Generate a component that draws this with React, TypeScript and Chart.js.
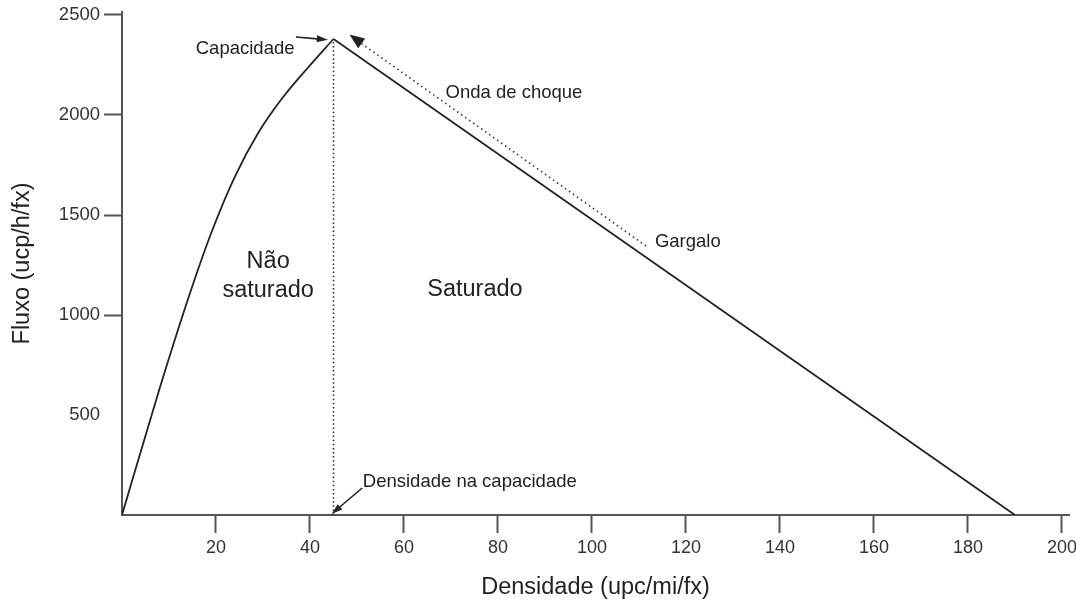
import React, { useEffect, useRef } from "react";
import { Chart, registerables } from "chart.js";

Chart.register(...registerables);

// ---- Data ----
const xTickValues = [20, 40, 60, 80, 100, 120, 140, 160, 180, 200];
const yTickValues = [500, 1000, 1500, 2000, 2500];

// Unsaturated (free-flow) branch of the flow-density curve
const curveDensity = [0, 8, 14, 19, 24, 29, 34, 39.5, 45];
const curveFlow = [0, 632, 1076, 1411, 1691, 1911, 2081, 2235, 2380];

// Saturated (congested) branch
const saturatedDensity = [45, 190];
const saturatedFlow = [2380, 0];

// Dotted vertical at the density at capacity
const capacityLineDensity = [45, 45];
const capacityLineFlow = [0, 2380];

// Dotted shock-wave line
const shockDensity = [111.5, 50.5];
const shockFlow = [1345, 2365];

// Text annotations
const labelTexts = [
  ["Capacidade"],
  ["Onda de choque"],
  ["Gargalo"],
  ["Não", "saturado"],
  ["Saturado"],
  ["Densidade na capacidade"],
];
const labelDensity = [26.2, 83.4, 120.4, 31.1, 75.1, 74.0];
const labelFlow = [2330, 2110, 1365, 1195, 1125, 165];
const labelSizes = [18.5, 18.5, 18.5, 23.5, 23.5, 18.5];

// Arrows: from -> to (data coordinates)
const arrowFrom = [
  [37.0, 2390],
  [111.5, 1345],
  [51.1, 135],
];
const arrowTo = [
  [43.8, 2376],
  [48.4, 2402],
  [44.6, 5],
];
const arrowShaft = [true, false, true];
const arrowHeadLen = [11, 15, 11];
const arrowHeadWidth = [7, 12, 7];

const FONT = '"Liberation Sans", Arial, Helvetica, sans-serif';
const INK = "#222222";
const AXIS = "#555555";

const annotationPlugin = {
  id: "flowAnnotations",
  afterDatasetsDraw(chart: any) {
    const { ctx } = chart;
    const xs = chart.scales.x;
    const ys = chart.scales.y;
    ctx.save();
    ctx.strokeStyle = INK;
    ctx.fillStyle = INK;
    ctx.lineWidth = 1.6;
    ctx.setLineDash([]);
    for (let i = 0; i < arrowFrom.length; i++) {
      const x1 = xs.getPixelForValue(arrowFrom[i][0]);
      const y1 = ys.getPixelForValue(arrowFrom[i][1]);
      const x2 = xs.getPixelForValue(arrowTo[i][0]);
      const y2 = ys.getPixelForValue(arrowTo[i][1]);
      const ang = Math.atan2(y2 - y1, x2 - x1);
      const c = Math.cos(ang);
      const s = Math.sin(ang);
      const L = arrowHeadLen[i];
      const W = arrowHeadWidth[i];
      if (arrowShaft[i]) {
        ctx.beginPath();
        ctx.moveTo(x1, y1);
        ctx.lineTo(x2 - c * L * 0.7, y2 - s * L * 0.7);
        ctx.stroke();
      }
      ctx.beginPath();
      ctx.moveTo(x2, y2);
      ctx.lineTo(x2 - L * c + (W / 2) * s, y2 - L * s - (W / 2) * c);
      ctx.lineTo(x2 - L * c - (W / 2) * s, y2 - L * s + (W / 2) * c);
      ctx.closePath();
      ctx.fill();
    }
    ctx.textAlign = "center";
    ctx.textBaseline = "middle";
    for (let i = 0; i < labelTexts.length; i++) {
      const size = labelSizes[i];
      ctx.font = `${size}px ${FONT}`;
      const cx = xs.getPixelForValue(labelDensity[i]);
      const cy = ys.getPixelForValue(labelFlow[i]);
      const lines = labelTexts[i];
      const lh = size * 1.2;
      lines.forEach((t, k) => {
        ctx.fillText(t, cx, cy + (k - (lines.length - 1) / 2) * lh);
      });
    }
    ctx.restore();
  },
};

function toPoints(xv: number[], yv: number[]) {
  return xv.map((v, i) => ({ x: v, y: yv[i] }));
}

export default function App() {
  const canvasRef = useRef<HTMLCanvasElement | null>(null);

  useEffect(() => {
    const canvas = canvasRef.current;
    if (!canvas) return;
    const chart = new Chart(canvas, {
      type: "scatter",
      data: {
        datasets: [
          {
            label: "Não saturado",
            data: toPoints(curveDensity, curveFlow),
            showLine: true,
            borderColor: INK,
            borderWidth: 1.8,
            pointRadius: 0,
            cubicInterpolationMode: "monotone",
            fill: false,
          },
          {
            label: "Saturado",
            data: toPoints(saturatedDensity, saturatedFlow),
            showLine: true,
            borderColor: INK,
            borderWidth: 1.8,
            pointRadius: 0,
            tension: 0,
            fill: false,
          },
          {
            label: "Densidade na capacidade",
            data: toPoints(capacityLineDensity, capacityLineFlow),
            showLine: true,
            borderColor: "#333333",
            borderWidth: 1.6,
            borderDash: [1.5, 2.6],
            pointRadius: 0,
            fill: false,
          },
          {
            label: "Onda de choque",
            data: toPoints(shockDensity, shockFlow),
            showLine: true,
            borderColor: "#333333",
            borderWidth: 1.6,
            borderDash: [1.5, 3.4],
            pointRadius: 0,
            fill: false,
          },
        ],
      },
      options: {
        responsive: false,
        animation: false,
        devicePixelRatio: 1,
        layout: { padding: { top: 12, right: 7, left: 0, bottom: 0 } },
        plugins: {
          legend: { display: false },
          tooltip: { enabled: false },
          title: { display: false },
        },
        scales: {
          x: {
            type: "linear",
            min: 0,
            max: 201.5,
            afterBuildTicks: (scale: any) => {
              scale.ticks = xTickValues.map((v) => ({ value: v }));
            },
            afterFit: (scale: any) => {
              scale.height = 87;
              scale.paddingLeft = 0;
              scale.paddingRight = 0;
            },
            border: { display: true, color: AXIS, width: 2 },
            grid: {
              drawOnChartArea: false,
              drawTicks: true,
              tickLength: 18,
              tickColor: AXIS,
              tickWidth: 2,
            },
            ticks: {
              padding: 4,
              color: "#333333",
              font: { family: FONT, size: 18 },
              autoSkip: false,
              maxRotation: 0,
              minRotation: 0,
              callback: (v: any) => String(v),
            },
            title: {
              display: true,
              text: "Densidade (upc/mi/fx)",
              color: INK,
              font: { family: FONT, size: 23.5 },
              padding: { top: 0, bottom: 0 },
            },
          },
          y: {
            type: "linear",
            min: 0,
            max: 2515,
            afterBuildTicks: (scale: any) => {
              scale.ticks = yTickValues.map((v) => ({ value: v }));
            },
            afterFit: (scale: any) => {
              scale.width = 122;
              scale.paddingTop = 0;
              scale.paddingBottom = 0;
            },
            border: { display: true, color: AXIS, width: 2 },
            grid: {
              drawOnChartArea: false,
              drawTicks: true,
              tickLength: 18,
              tickWidth: 2,
              tickColor: (ctx: any) =>
                ctx.tick && ctx.tick.value === 500 ? "rgba(0,0,0,0)" : AXIS,
            },
            ticks: {
              padding: 4,
              color: "#333333",
              font: { family: FONT, size: 18.5 },
              callback: (v: any) => String(v),
            },
            title: {
              display: true,
              text: "Fluxo (ucp/h/fx)",
              color: INK,
              font: { family: FONT, size: 23.5 },
              padding: { top: 8, bottom: 0 },
            },
          },
        },
      },
      plugins: [annotationPlugin],
    } as any);
    return () => {
      chart.destroy();
    };
  }, []);

  return (
    <div
      style={{
        position: "absolute",
        left: 0,
        top: 0,
        width: 1076,
        height: 602,
        background: "#ffffff",
      }}
    >
      <canvas
        ref={canvasRef}
        width={1076}
        height={602}
        style={{ display: "block", width: 1076, height: 602 }}
      />
    </div>
  );
}
